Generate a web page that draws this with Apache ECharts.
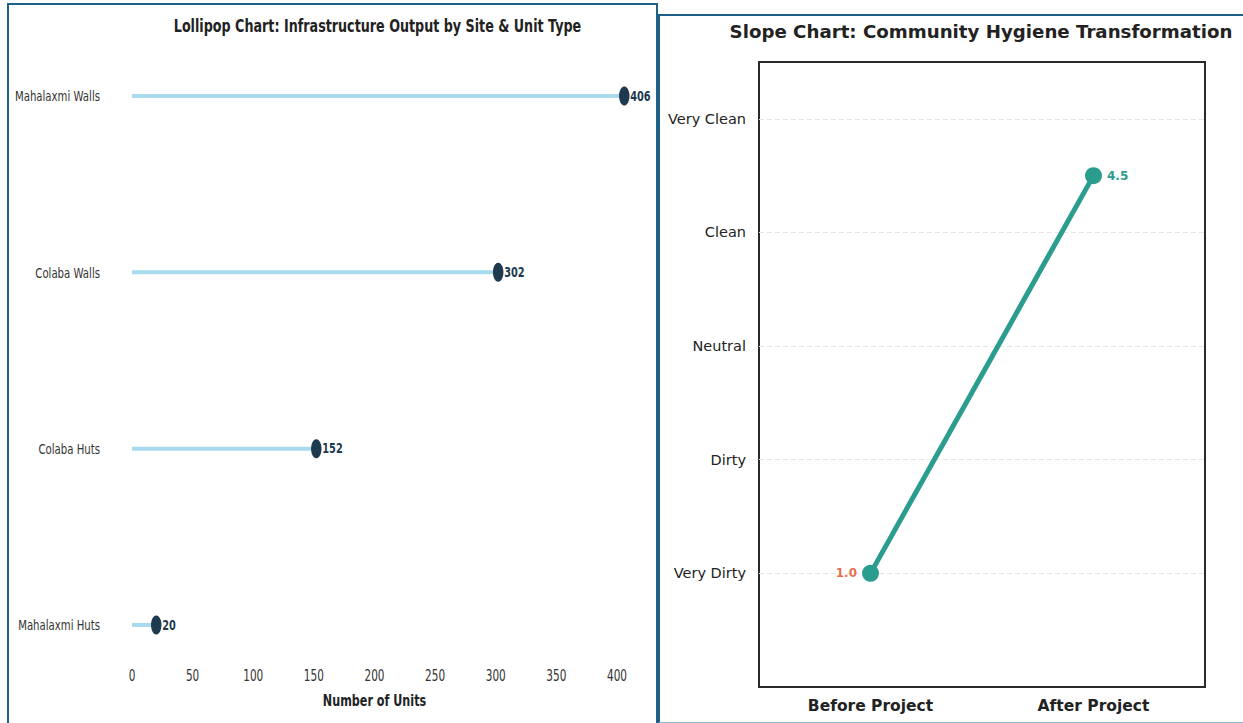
<!DOCTYPE html>
<html>
<head>
<meta charset="utf-8">
<script src="https://cdn.jsdelivr.net/npm/echarts@6/dist/echarts.min.js"></script>
<style>
  html, body { margin: 0; padding: 0; background: #ffffff; }
  body { width: 1243px; height: 723px; position: relative; overflow: hidden; }
  .frame { position: absolute; box-sizing: border-box; }
  #leftFrame { left: 7px; top: 3px; width: 651px; height: 740px; border: 2px solid #1d6089; }
  #rightFrame { left: 658px; top: 14px; width: 600px; height: 709px; border: 2px solid #1d6089; border-bottom: 1px solid #8ab4cf; }
  #lollipop { position: absolute; left: 0; top: 0; height: 723px; transform-origin: 0 0; }
  #slope { position: absolute; left: 0; top: 0; width: 1243px; height: 723px; }
</style>
</head>
<body>
<div id="slope"></div>
<div id="lollipop"></div>
<div class="frame" id="leftFrame"></div>
<div class="frame" id="rightFrame"></div>
<script>
// ---- Lollipop data: units built per site & unit type ----
const siteUnits = ['Mahalaxmi Huts', 'Colaba Huts', 'Colaba Walls', 'Mahalaxmi Walls'];
const unitCounts = [20, 152, 302, 406];
const unitTicks = [0, 50, 100, 150, 200, 250, 300, 350, 400];

// ---- Slope data: hygiene rating before and after ----
const phases = ['Before Project', 'After Project'];
const hygieneScores = [1.0, 4.5];
const hygieneLevels = ['', 'Very Dirty', 'Dirty', 'Neutral', 'Clean', 'Very Clean'];

// The lollipop panel is drawn in a narrow, condensed style
const squeeze = 0.7;
const lolliEl = document.getElementById('lollipop');
const lolliWidth = 658 / squeeze;
lolliEl.style.width = lolliWidth + 'px';
lolliEl.style.transform = 'scaleX(' + squeeze + ')';
const px = v => v / squeeze;   // page x -> local x

const stemColor = '#a9dbee';
const headColor = '#1d3a4f';
const lolli = echarts.init(lolliEl, null, { renderer: 'svg' });
lolli.setOption({
  animation: false,
  textStyle: { fontFamily: 'DejaVu Sans' },
  title: {
    text: 'Lollipop Chart: Infrastructure Output by Site & Unit Type',
    left: px(374), top: 12, textAlign: 'center',
    textStyle: { fontSize: 18.2, fontWeight: 'bold', color: '#222' }
  },
  grid: { left: px(132), right: lolliWidth - px(617), top: 96, bottom: 98 },
  xAxis: {
    type: 'value', min: 0, max: 400, interval: 50,
    axisLine: { show: false }, axisTick: { show: false }, splitLine: { show: false },
    axisLabel: {
      margin: 43, fontSize: 15, color: '#333',
      customValues: unitTicks
    },
    name: 'Number of Units', nameLocation: 'middle', nameGap: 67,
    nameTextStyle: { fontSize: 16, fontWeight: 'bold', color: '#222' }
  },
  yAxis: {
    type: 'category', data: siteUnits, boundaryGap: false,
    axisLine: { show: false }, axisTick: { show: false }, splitLine: { show: false },
    axisLabel: { margin: px(132 - 100), fontSize: 14.5, color: '#333' }
  },
  series: [
    {
      type: 'bar', data: unitCounts, barWidth: 4, clip: false,
      itemStyle: { color: stemColor }, silent: true
    },
    {
      type: 'scatter', data: unitCounts.map((v, i) => [v, siteUnits[i]]), clip: false,
      symbol: 'circle', symbolSize: [15, 19],
      itemStyle: { color: headColor, opacity: 1 },
      label: {
        show: true, position: 'right', distance: 1,
        formatter: p => String(p.value[0]),
        fontSize: 14, fontWeight: 'bold', color: headColor
      }
    }
  ]
});

// ---- Slope chart ----
const teal = '#2a9d8f';
const coral = '#e76f51';
const slope = echarts.init(document.getElementById('slope'), null, { renderer: 'svg' });
slope.setOption({
  animation: false,
  textStyle: { fontFamily: 'DejaVu Sans' },
  title: {
    text: 'Slope Chart: Community Hygiene Transformation',
    left: 976, top: 17, textAlign: 'center',
    textStyle: { fontSize: 18.2, fontWeight: 'bold', color: '#222' }
  },
  grid: {
    left: 759, right: 1243 - 1205, top: 62, bottom: 723 - 687,
    show: true, borderColor: '#2a2a2a', borderWidth: 2, backgroundColor: 'transparent'
  },
  xAxis: {
    type: 'category', data: phases, boundaryGap: true,
    axisLine: { show: false }, axisTick: { show: false },
    axisLabel: { margin: 11, fontSize: 15.5, fontWeight: 'bold', color: '#222' }
  },
  yAxis: {
    type: 'value', min: 0, max: 5.5, interval: 1,
    axisLine: { show: false }, axisTick: { show: false },
    axisLabel: {
      margin: 13, fontSize: 14.5, color: '#222',
      formatter: v => hygieneLevels[v] || ''
    },
    splitLine: {
      show: true, showMinLine: false, showMaxLine: false,
      lineStyle: { color: '#e6e6e6', type: [5, 3], width: 1 }
    }
  },
  series: [{
    type: 'line', data: hygieneScores.map((v, i) => ({
      value: v,
      label: {
        position: i === 0 ? 'left' : 'right',
        color: i === 0 ? coral : teal
      }
    })),
    lineStyle: { color: teal, width: 5 },
    itemStyle: { color: teal },
    symbol: 'circle', symbolSize: 17, showAllSymbol: true,
    label: {
      show: true, distance: 5, fontSize: 12, fontWeight: 'bold',
      formatter: p => Number(p.value).toFixed(1)
    }
  }]
});
</script>
</body>
</html>
